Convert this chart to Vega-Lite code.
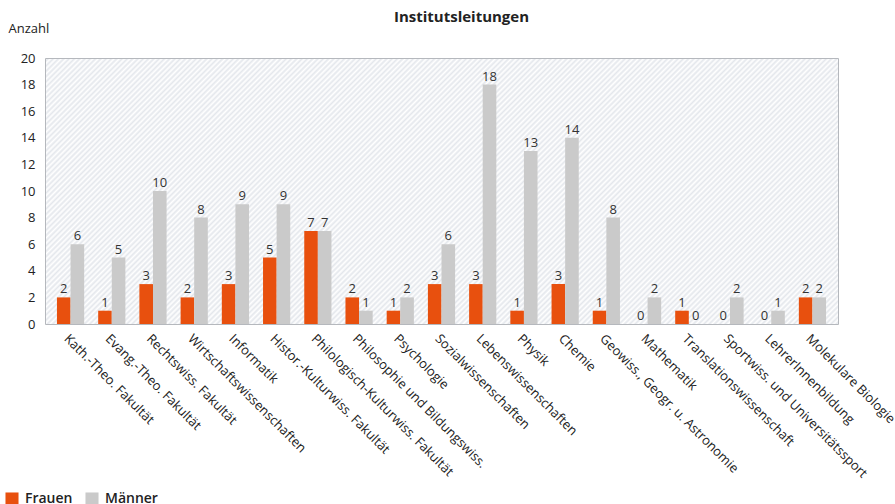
{
  "$schema": "https://vega.github.io/schema/vega-lite/v6.json",
  "width": 793,
  "height": 266,
  "autosize": {"type": "none"},
  "padding": {"left": 45, "top": 58, "right": 57, "bottom": 180},
  "background": "white",
  "title": {"text": "Institutsleitungen", "fontSize": 15, "fontWeight": "bold", "font": "Open Sans", "color": "#222222", "anchor": "middle", "dx": 20, "dy": 15, "offset": 0, "baseline": "alphabetic"},
  "data": {"values": [
    {"bereich": "Kath.-Theo. Fakultät", "geschlecht": "Frauen", "anzahl": 2},
    {"bereich": "Kath.-Theo. Fakultät", "geschlecht": "Männer", "anzahl": 6},
    {"bereich": "Evang.-Theo. Fakultät", "geschlecht": "Frauen", "anzahl": 1},
    {"bereich": "Evang.-Theo. Fakultät", "geschlecht": "Männer", "anzahl": 5},
    {"bereich": "Rechtswiss. Fakultät", "geschlecht": "Frauen", "anzahl": 3},
    {"bereich": "Rechtswiss. Fakultät", "geschlecht": "Männer", "anzahl": 10},
    {"bereich": "Wirtschaftswissenschaften", "geschlecht": "Frauen", "anzahl": 2},
    {"bereich": "Wirtschaftswissenschaften", "geschlecht": "Männer", "anzahl": 8},
    {"bereich": "Informatik", "geschlecht": "Frauen", "anzahl": 3},
    {"bereich": "Informatik", "geschlecht": "Männer", "anzahl": 9},
    {"bereich": "Histor.-Kulturwiss. Fakultät", "geschlecht": "Frauen", "anzahl": 5},
    {"bereich": "Histor.-Kulturwiss. Fakultät", "geschlecht": "Männer", "anzahl": 9},
    {"bereich": "Philologisch-Kulturwiss. Fakultät", "geschlecht": "Frauen", "anzahl": 7},
    {"bereich": "Philologisch-Kulturwiss. Fakultät", "geschlecht": "Männer", "anzahl": 7},
    {"bereich": "Philosophie und Bildungswiss.", "geschlecht": "Frauen", "anzahl": 2},
    {"bereich": "Philosophie und Bildungswiss.", "geschlecht": "Männer", "anzahl": 1},
    {"bereich": "Psychologie", "geschlecht": "Frauen", "anzahl": 1},
    {"bereich": "Psychologie", "geschlecht": "Männer", "anzahl": 2},
    {"bereich": "Sozialwissenschaften", "geschlecht": "Frauen", "anzahl": 3},
    {"bereich": "Sozialwissenschaften", "geschlecht": "Männer", "anzahl": 6},
    {"bereich": "Lebenswissenschaften", "geschlecht": "Frauen", "anzahl": 3},
    {"bereich": "Lebenswissenschaften", "geschlecht": "Männer", "anzahl": 18},
    {"bereich": "Physik", "geschlecht": "Frauen", "anzahl": 1},
    {"bereich": "Physik", "geschlecht": "Männer", "anzahl": 13},
    {"bereich": "Chemie", "geschlecht": "Frauen", "anzahl": 3},
    {"bereich": "Chemie", "geschlecht": "Männer", "anzahl": 14},
    {"bereich": "Geowiss., Geogr. u. Astronomie", "geschlecht": "Frauen", "anzahl": 1},
    {"bereich": "Geowiss., Geogr. u. Astronomie", "geschlecht": "Männer", "anzahl": 8},
    {"bereich": "Mathematik", "geschlecht": "Frauen", "anzahl": 0},
    {"bereich": "Mathematik", "geschlecht": "Männer", "anzahl": 2},
    {"bereich": "Translationswissenschaft", "geschlecht": "Frauen", "anzahl": 1},
    {"bereich": "Translationswissenschaft", "geschlecht": "Männer", "anzahl": 0},
    {"bereich": "Sportwiss. und Universitätssport", "geschlecht": "Frauen", "anzahl": 0},
    {"bereich": "Sportwiss. und Universitätssport", "geschlecht": "Männer", "anzahl": 2},
    {"bereich": "LehrerInnenbildung", "geschlecht": "Frauen", "anzahl": 0},
    {"bereich": "LehrerInnenbildung", "geschlecht": "Männer", "anzahl": 1},
    {"bereich": "Molekulare Biologie", "geschlecht": "Frauen", "anzahl": 2},
    {"bereich": "Molekulare Biologie", "geschlecht": "Männer", "anzahl": 2}
  ]},
  "encoding": {
    "x": {
      "field": "bereich", "type": "nominal", "sort": null,
      "scale": {"paddingInner": 0.34, "paddingOuter": 0.29},
      "axis": {"title": null, "labelAngle": 45, "labelAlign": "left", "labelBaseline": "top", "ticks": false, "domain": false, "labelPadding": 8, "labelFontSize": 13, "labelFont": "Open Sans", "labelColor": "#222222", "labelLimit": 0}
    },
    "xOffset": {"field": "geschlecht", "type": "nominal", "sort": ["Frauen", "Männer"]},
    "y": {
      "field": "anzahl", "type": "quantitative",
      "scale": {"domain": [0, 20]},
      "axis": {"values": [0, 2, 4, 6, 8, 10, 12, 14, 16, 18, 20], "ticks": false, "domain": false, "grid": false, "labelPadding": 10, "labelFontSize": 13, "labelFont": "Open Sans", "labelColor": "#222222", "title": "Anzahl", "titleAngle": 0, "titleAlign": "left", "titleBaseline": "middle", "titleX": -37, "titleY": -30, "titleFontWeight": "normal", "titleFontSize": 13, "titleFont": "Open Sans", "titleColor": "#222222"}
    }
  },
  "layer": [
    {
      "mark": {"type": "bar"},
      "encoding": {
        "color": {
          "field": "geschlecht", "type": "nominal",
          "scale": {"domain": ["Frauen", "Männer"], "range": ["#e8500e", "#cacaca"]},
          "legend": {"orient": "none", "legendX": -40, "legendY": 434, "direction": "horizontal", "title": null, "symbolType": "square", "symbolSize": 170, "symbolStrokeWidth": 0, "symbolOpacity": 1, "labelFontSize": 14, "labelFontWeight": 600, "labelFont": "Open Sans", "labelColor": "#222222", "columnPadding": 12, "labelOffset": 6}
        }
      }
    },
    {
      "mark": {"type": "text", "baseline": "alphabetic", "dy": -4, "fontSize": 13, "font": "Open Sans", "color": "#333333"},
      "encoding": {"text": {"field": "anzahl", "type": "quantitative"}}
    }
  ],
  "config": {
    "view": {"stroke": "#b5b8bd", "strokeWidth": 1, "fill": {"gradient": "linear", "x1": 0, "y1": 0, "x2": 1.2004, "y2": 0.4026, "stops": [
      {"offset": 0, "color": "#ffffff"}, {"offset": 0.0025, "color": "#e4e7ec"},
      {"offset": 0.005, "color": "#ffffff"}, {"offset": 0.0075, "color": "#e4e7ec"},
      {"offset": 0.01, "color": "#ffffff"}, {"offset": 0.0125, "color": "#e4e7ec"},
      {"offset": 0.015, "color": "#ffffff"}, {"offset": 0.0175, "color": "#e4e7ec"},
      {"offset": 0.02, "color": "#ffffff"}, {"offset": 0.0225, "color": "#e4e7ec"},
      {"offset": 0.025, "color": "#ffffff"}, {"offset": 0.0275, "color": "#e4e7ec"},
      {"offset": 0.03, "color": "#ffffff"}, {"offset": 0.0325, "color": "#e4e7ec"},
      {"offset": 0.035, "color": "#ffffff"}, {"offset": 0.0375, "color": "#e4e7ec"},
      {"offset": 0.04, "color": "#ffffff"}, {"offset": 0.0425, "color": "#e4e7ec"},
      {"offset": 0.045, "color": "#ffffff"}, {"offset": 0.0475, "color": "#e4e7ec"},
      {"offset": 0.05, "color": "#ffffff"}, {"offset": 0.0525, "color": "#e4e7ec"},
      {"offset": 0.055, "color": "#ffffff"}, {"offset": 0.0575, "color": "#e4e7ec"},
      {"offset": 0.06, "color": "#ffffff"}, {"offset": 0.0625, "color": "#e4e7ec"},
      {"offset": 0.065, "color": "#ffffff"}, {"offset": 0.0675, "color": "#e4e7ec"},
      {"offset": 0.07, "color": "#ffffff"}, {"offset": 0.0725, "color": "#e4e7ec"},
      {"offset": 0.075, "color": "#ffffff"}, {"offset": 0.0775, "color": "#e4e7ec"},
      {"offset": 0.08, "color": "#ffffff"}, {"offset": 0.0825, "color": "#e4e7ec"},
      {"offset": 0.085, "color": "#ffffff"}, {"offset": 0.0875, "color": "#e4e7ec"},
      {"offset": 0.09, "color": "#ffffff"}, {"offset": 0.0925, "color": "#e4e7ec"},
      {"offset": 0.095, "color": "#ffffff"}, {"offset": 0.0975, "color": "#e4e7ec"},
      {"offset": 0.1, "color": "#ffffff"}, {"offset": 0.1025, "color": "#e4e7ec"},
      {"offset": 0.105, "color": "#ffffff"}, {"offset": 0.1075, "color": "#e4e7ec"},
      {"offset": 0.11, "color": "#ffffff"}, {"offset": 0.1125, "color": "#e4e7ec"},
      {"offset": 0.115, "color": "#ffffff"}, {"offset": 0.1175, "color": "#e4e7ec"},
      {"offset": 0.12, "color": "#ffffff"}, {"offset": 0.1225, "color": "#e4e7ec"},
      {"offset": 0.125, "color": "#ffffff"}, {"offset": 0.1275, "color": "#e4e7ec"},
      {"offset": 0.13, "color": "#ffffff"}, {"offset": 0.1325, "color": "#e4e7ec"},
      {"offset": 0.135, "color": "#ffffff"}, {"offset": 0.1375, "color": "#e4e7ec"},
      {"offset": 0.14, "color": "#ffffff"}, {"offset": 0.1425, "color": "#e4e7ec"},
      {"offset": 0.145, "color": "#ffffff"}, {"offset": 0.1475, "color": "#e4e7ec"},
      {"offset": 0.15, "color": "#ffffff"}, {"offset": 0.1525, "color": "#e4e7ec"},
      {"offset": 0.155, "color": "#ffffff"}, {"offset": 0.1575, "color": "#e4e7ec"},
      {"offset": 0.16, "color": "#ffffff"}, {"offset": 0.1625, "color": "#e4e7ec"},
      {"offset": 0.165, "color": "#ffffff"}, {"offset": 0.1675, "color": "#e4e7ec"},
      {"offset": 0.17, "color": "#ffffff"}, {"offset": 0.1725, "color": "#e4e7ec"},
      {"offset": 0.175, "color": "#ffffff"}, {"offset": 0.1775, "color": "#e4e7ec"},
      {"offset": 0.18, "color": "#ffffff"}, {"offset": 0.1825, "color": "#e4e7ec"},
      {"offset": 0.185, "color": "#ffffff"}, {"offset": 0.1875, "color": "#e4e7ec"},
      {"offset": 0.19, "color": "#ffffff"}, {"offset": 0.1925, "color": "#e4e7ec"},
      {"offset": 0.195, "color": "#ffffff"}, {"offset": 0.1975, "color": "#e4e7ec"},
      {"offset": 0.2, "color": "#ffffff"}, {"offset": 0.2025, "color": "#e4e7ec"},
      {"offset": 0.205, "color": "#ffffff"}, {"offset": 0.2075, "color": "#e4e7ec"},
      {"offset": 0.21, "color": "#ffffff"}, {"offset": 0.2125, "color": "#e4e7ec"},
      {"offset": 0.215, "color": "#ffffff"}, {"offset": 0.2175, "color": "#e4e7ec"},
      {"offset": 0.22, "color": "#ffffff"}, {"offset": 0.2225, "color": "#e4e7ec"},
      {"offset": 0.225, "color": "#ffffff"}, {"offset": 0.2275, "color": "#e4e7ec"},
      {"offset": 0.23, "color": "#ffffff"}, {"offset": 0.2325, "color": "#e4e7ec"},
      {"offset": 0.235, "color": "#ffffff"}, {"offset": 0.2375, "color": "#e4e7ec"},
      {"offset": 0.24, "color": "#ffffff"}, {"offset": 0.2425, "color": "#e4e7ec"},
      {"offset": 0.245, "color": "#ffffff"}, {"offset": 0.2475, "color": "#e4e7ec"},
      {"offset": 0.25, "color": "#ffffff"}, {"offset": 0.2525, "color": "#e4e7ec"},
      {"offset": 0.255, "color": "#ffffff"}, {"offset": 0.2575, "color": "#e4e7ec"},
      {"offset": 0.26, "color": "#ffffff"}, {"offset": 0.2625, "color": "#e4e7ec"},
      {"offset": 0.265, "color": "#ffffff"}, {"offset": 0.2675, "color": "#e4e7ec"},
      {"offset": 0.27, "color": "#ffffff"}, {"offset": 0.2725, "color": "#e4e7ec"},
      {"offset": 0.275, "color": "#ffffff"}, {"offset": 0.2775, "color": "#e4e7ec"},
      {"offset": 0.28, "color": "#ffffff"}, {"offset": 0.2825, "color": "#e4e7ec"},
      {"offset": 0.285, "color": "#ffffff"}, {"offset": 0.2875, "color": "#e4e7ec"},
      {"offset": 0.29, "color": "#ffffff"}, {"offset": 0.2925, "color": "#e4e7ec"},
      {"offset": 0.295, "color": "#ffffff"}, {"offset": 0.2975, "color": "#e4e7ec"},
      {"offset": 0.3, "color": "#ffffff"}, {"offset": 0.3025, "color": "#e4e7ec"},
      {"offset": 0.305, "color": "#ffffff"}, {"offset": 0.3075, "color": "#e4e7ec"},
      {"offset": 0.31, "color": "#ffffff"}, {"offset": 0.3125, "color": "#e4e7ec"},
      {"offset": 0.315, "color": "#ffffff"}, {"offset": 0.3175, "color": "#e4e7ec"},
      {"offset": 0.32, "color": "#ffffff"}, {"offset": 0.3225, "color": "#e4e7ec"},
      {"offset": 0.325, "color": "#ffffff"}, {"offset": 0.3275, "color": "#e4e7ec"},
      {"offset": 0.33, "color": "#ffffff"}, {"offset": 0.3325, "color": "#e4e7ec"},
      {"offset": 0.335, "color": "#ffffff"}, {"offset": 0.3375, "color": "#e4e7ec"},
      {"offset": 0.34, "color": "#ffffff"}, {"offset": 0.3425, "color": "#e4e7ec"},
      {"offset": 0.345, "color": "#ffffff"}, {"offset": 0.3475, "color": "#e4e7ec"},
      {"offset": 0.35, "color": "#ffffff"}, {"offset": 0.3525, "color": "#e4e7ec"},
      {"offset": 0.355, "color": "#ffffff"}, {"offset": 0.3575, "color": "#e4e7ec"},
      {"offset": 0.36, "color": "#ffffff"}, {"offset": 0.3625, "color": "#e4e7ec"},
      {"offset": 0.365, "color": "#ffffff"}, {"offset": 0.3675, "color": "#e4e7ec"},
      {"offset": 0.37, "color": "#ffffff"}, {"offset": 0.3725, "color": "#e4e7ec"},
      {"offset": 0.375, "color": "#ffffff"}, {"offset": 0.3775, "color": "#e4e7ec"},
      {"offset": 0.38, "color": "#ffffff"}, {"offset": 0.3825, "color": "#e4e7ec"},
      {"offset": 0.385, "color": "#ffffff"}, {"offset": 0.3875, "color": "#e4e7ec"},
      {"offset": 0.39, "color": "#ffffff"}, {"offset": 0.3925, "color": "#e4e7ec"},
      {"offset": 0.395, "color": "#ffffff"}, {"offset": 0.3975, "color": "#e4e7ec"},
      {"offset": 0.4, "color": "#ffffff"}, {"offset": 0.4025, "color": "#e4e7ec"},
      {"offset": 0.405, "color": "#ffffff"}, {"offset": 0.4075, "color": "#e4e7ec"},
      {"offset": 0.41, "color": "#ffffff"}, {"offset": 0.4125, "color": "#e4e7ec"},
      {"offset": 0.415, "color": "#ffffff"}, {"offset": 0.4175, "color": "#e4e7ec"},
      {"offset": 0.42, "color": "#ffffff"}, {"offset": 0.4225, "color": "#e4e7ec"},
      {"offset": 0.425, "color": "#ffffff"}, {"offset": 0.4275, "color": "#e4e7ec"},
      {"offset": 0.43, "color": "#ffffff"}, {"offset": 0.4325, "color": "#e4e7ec"},
      {"offset": 0.435, "color": "#ffffff"}, {"offset": 0.4375, "color": "#e4e7ec"},
      {"offset": 0.44, "color": "#ffffff"}, {"offset": 0.4425, "color": "#e4e7ec"},
      {"offset": 0.445, "color": "#ffffff"}, {"offset": 0.4475, "color": "#e4e7ec"},
      {"offset": 0.45, "color": "#ffffff"}, {"offset": 0.4525, "color": "#e4e7ec"},
      {"offset": 0.455, "color": "#ffffff"}, {"offset": 0.4575, "color": "#e4e7ec"},
      {"offset": 0.46, "color": "#ffffff"}, {"offset": 0.4625, "color": "#e4e7ec"},
      {"offset": 0.465, "color": "#ffffff"}, {"offset": 0.4675, "color": "#e4e7ec"},
      {"offset": 0.47, "color": "#ffffff"}, {"offset": 0.4725, "color": "#e4e7ec"},
      {"offset": 0.475, "color": "#ffffff"}, {"offset": 0.4775, "color": "#e4e7ec"},
      {"offset": 0.48, "color": "#ffffff"}, {"offset": 0.4825, "color": "#e4e7ec"},
      {"offset": 0.485, "color": "#ffffff"}, {"offset": 0.4875, "color": "#e4e7ec"},
      {"offset": 0.49, "color": "#ffffff"}, {"offset": 0.4925, "color": "#e4e7ec"},
      {"offset": 0.495, "color": "#ffffff"}, {"offset": 0.4975, "color": "#e4e7ec"},
      {"offset": 0.5, "color": "#ffffff"}, {"offset": 0.5025, "color": "#e4e7ec"},
      {"offset": 0.505, "color": "#ffffff"}, {"offset": 0.5075, "color": "#e4e7ec"},
      {"offset": 0.51, "color": "#ffffff"}, {"offset": 0.5125, "color": "#e4e7ec"},
      {"offset": 0.515, "color": "#ffffff"}, {"offset": 0.5175, "color": "#e4e7ec"},
      {"offset": 0.52, "color": "#ffffff"}, {"offset": 0.5225, "color": "#e4e7ec"},
      {"offset": 0.525, "color": "#ffffff"}, {"offset": 0.5275, "color": "#e4e7ec"},
      {"offset": 0.53, "color": "#ffffff"}, {"offset": 0.5325, "color": "#e4e7ec"},
      {"offset": 0.535, "color": "#ffffff"}, {"offset": 0.5375, "color": "#e4e7ec"},
      {"offset": 0.54, "color": "#ffffff"}, {"offset": 0.5425, "color": "#e4e7ec"},
      {"offset": 0.545, "color": "#ffffff"}, {"offset": 0.5475, "color": "#e4e7ec"},
      {"offset": 0.55, "color": "#ffffff"}, {"offset": 0.5525, "color": "#e4e7ec"},
      {"offset": 0.555, "color": "#ffffff"}, {"offset": 0.5575, "color": "#e4e7ec"},
      {"offset": 0.56, "color": "#ffffff"}, {"offset": 0.5625, "color": "#e4e7ec"},
      {"offset": 0.565, "color": "#ffffff"}, {"offset": 0.5675, "color": "#e4e7ec"},
      {"offset": 0.57, "color": "#ffffff"}, {"offset": 0.5725, "color": "#e4e7ec"},
      {"offset": 0.575, "color": "#ffffff"}, {"offset": 0.5775, "color": "#e4e7ec"},
      {"offset": 0.58, "color": "#ffffff"}, {"offset": 0.5825, "color": "#e4e7ec"},
      {"offset": 0.585, "color": "#ffffff"}, {"offset": 0.5875, "color": "#e4e7ec"},
      {"offset": 0.59, "color": "#ffffff"}, {"offset": 0.5925, "color": "#e4e7ec"},
      {"offset": 0.595, "color": "#ffffff"}, {"offset": 0.5975, "color": "#e4e7ec"},
      {"offset": 0.6, "color": "#ffffff"}, {"offset": 0.6025, "color": "#e4e7ec"},
      {"offset": 0.605, "color": "#ffffff"}, {"offset": 0.6075, "color": "#e4e7ec"},
      {"offset": 0.61, "color": "#ffffff"}, {"offset": 0.6125, "color": "#e4e7ec"},
      {"offset": 0.615, "color": "#ffffff"}, {"offset": 0.6175, "color": "#e4e7ec"},
      {"offset": 0.62, "color": "#ffffff"}, {"offset": 0.6225, "color": "#e4e7ec"},
      {"offset": 0.625, "color": "#ffffff"}, {"offset": 0.6275, "color": "#e4e7ec"},
      {"offset": 0.63, "color": "#ffffff"}, {"offset": 0.6325, "color": "#e4e7ec"},
      {"offset": 0.635, "color": "#ffffff"}, {"offset": 0.6375, "color": "#e4e7ec"},
      {"offset": 0.64, "color": "#ffffff"}, {"offset": 0.6425, "color": "#e4e7ec"},
      {"offset": 0.645, "color": "#ffffff"}, {"offset": 0.6475, "color": "#e4e7ec"},
      {"offset": 0.65, "color": "#ffffff"}, {"offset": 0.6525, "color": "#e4e7ec"},
      {"offset": 0.655, "color": "#ffffff"}, {"offset": 0.6575, "color": "#e4e7ec"},
      {"offset": 0.66, "color": "#ffffff"}, {"offset": 0.6625, "color": "#e4e7ec"},
      {"offset": 0.665, "color": "#ffffff"}, {"offset": 0.6675, "color": "#e4e7ec"},
      {"offset": 0.67, "color": "#ffffff"}, {"offset": 0.6725, "color": "#e4e7ec"},
      {"offset": 0.675, "color": "#ffffff"}, {"offset": 0.6775, "color": "#e4e7ec"},
      {"offset": 0.68, "color": "#ffffff"}, {"offset": 0.6825, "color": "#e4e7ec"},
      {"offset": 0.685, "color": "#ffffff"}, {"offset": 0.6875, "color": "#e4e7ec"},
      {"offset": 0.69, "color": "#ffffff"}, {"offset": 0.6925, "color": "#e4e7ec"},
      {"offset": 0.695, "color": "#ffffff"}, {"offset": 0.6975, "color": "#e4e7ec"},
      {"offset": 0.7, "color": "#ffffff"}, {"offset": 0.7025, "color": "#e4e7ec"},
      {"offset": 0.705, "color": "#ffffff"}, {"offset": 0.7075, "color": "#e4e7ec"},
      {"offset": 0.71, "color": "#ffffff"}, {"offset": 0.7125, "color": "#e4e7ec"},
      {"offset": 0.715, "color": "#ffffff"}, {"offset": 0.7175, "color": "#e4e7ec"},
      {"offset": 0.72, "color": "#ffffff"}, {"offset": 0.7225, "color": "#e4e7ec"},
      {"offset": 0.725, "color": "#ffffff"}, {"offset": 0.7275, "color": "#e4e7ec"},
      {"offset": 0.73, "color": "#ffffff"}, {"offset": 0.7325, "color": "#e4e7ec"},
      {"offset": 0.735, "color": "#ffffff"}, {"offset": 0.7375, "color": "#e4e7ec"},
      {"offset": 0.74, "color": "#ffffff"}, {"offset": 0.7425, "color": "#e4e7ec"},
      {"offset": 0.745, "color": "#ffffff"}, {"offset": 0.7475, "color": "#e4e7ec"},
      {"offset": 0.75, "color": "#ffffff"}, {"offset": 0.7525, "color": "#e4e7ec"},
      {"offset": 0.755, "color": "#ffffff"}, {"offset": 0.7575, "color": "#e4e7ec"},
      {"offset": 0.76, "color": "#ffffff"}, {"offset": 0.7625, "color": "#e4e7ec"},
      {"offset": 0.765, "color": "#ffffff"}, {"offset": 0.7675, "color": "#e4e7ec"},
      {"offset": 0.77, "color": "#ffffff"}, {"offset": 0.7725, "color": "#e4e7ec"},
      {"offset": 0.775, "color": "#ffffff"}, {"offset": 0.7775, "color": "#e4e7ec"},
      {"offset": 0.78, "color": "#ffffff"}, {"offset": 0.7825, "color": "#e4e7ec"},
      {"offset": 0.785, "color": "#ffffff"}, {"offset": 0.7875, "color": "#e4e7ec"},
      {"offset": 0.79, "color": "#ffffff"}, {"offset": 0.7925, "color": "#e4e7ec"},
      {"offset": 0.795, "color": "#ffffff"}, {"offset": 0.7975, "color": "#e4e7ec"},
      {"offset": 0.8, "color": "#ffffff"}, {"offset": 0.8025, "color": "#e4e7ec"},
      {"offset": 0.805, "color": "#ffffff"}, {"offset": 0.8075, "color": "#e4e7ec"},
      {"offset": 0.81, "color": "#ffffff"}, {"offset": 0.8125, "color": "#e4e7ec"},
      {"offset": 0.815, "color": "#ffffff"}, {"offset": 0.8175, "color": "#e4e7ec"},
      {"offset": 0.82, "color": "#ffffff"}, {"offset": 0.8225, "color": "#e4e7ec"},
      {"offset": 0.825, "color": "#ffffff"}, {"offset": 0.8275, "color": "#e4e7ec"},
      {"offset": 0.83, "color": "#ffffff"}, {"offset": 0.8325, "color": "#e4e7ec"},
      {"offset": 0.835, "color": "#ffffff"}, {"offset": 0.8375, "color": "#e4e7ec"},
      {"offset": 0.84, "color": "#ffffff"}, {"offset": 0.8425, "color": "#e4e7ec"},
      {"offset": 0.845, "color": "#ffffff"}, {"offset": 0.8475, "color": "#e4e7ec"},
      {"offset": 0.85, "color": "#ffffff"}, {"offset": 0.8525, "color": "#e4e7ec"},
      {"offset": 0.855, "color": "#ffffff"}, {"offset": 0.8575, "color": "#e4e7ec"},
      {"offset": 0.86, "color": "#ffffff"}, {"offset": 0.8625, "color": "#e4e7ec"},
      {"offset": 0.865, "color": "#ffffff"}, {"offset": 0.8675, "color": "#e4e7ec"},
      {"offset": 0.87, "color": "#ffffff"}, {"offset": 0.8725, "color": "#e4e7ec"},
      {"offset": 0.875, "color": "#ffffff"}, {"offset": 0.8775, "color": "#e4e7ec"},
      {"offset": 0.88, "color": "#ffffff"}, {"offset": 0.8825, "color": "#e4e7ec"},
      {"offset": 0.885, "color": "#ffffff"}, {"offset": 0.8875, "color": "#e4e7ec"},
      {"offset": 0.89, "color": "#ffffff"}, {"offset": 0.8925, "color": "#e4e7ec"},
      {"offset": 0.895, "color": "#ffffff"}, {"offset": 0.8975, "color": "#e4e7ec"},
      {"offset": 0.9, "color": "#ffffff"}, {"offset": 0.9025, "color": "#e4e7ec"},
      {"offset": 0.905, "color": "#ffffff"}, {"offset": 0.9075, "color": "#e4e7ec"},
      {"offset": 0.91, "color": "#ffffff"}, {"offset": 0.9125, "color": "#e4e7ec"},
      {"offset": 0.915, "color": "#ffffff"}, {"offset": 0.9175, "color": "#e4e7ec"},
      {"offset": 0.92, "color": "#ffffff"}, {"offset": 0.9225, "color": "#e4e7ec"},
      {"offset": 0.925, "color": "#ffffff"}, {"offset": 0.9275, "color": "#e4e7ec"},
      {"offset": 0.93, "color": "#ffffff"}, {"offset": 0.9325, "color": "#e4e7ec"},
      {"offset": 0.935, "color": "#ffffff"}, {"offset": 0.9375, "color": "#e4e7ec"},
      {"offset": 0.94, "color": "#ffffff"}, {"offset": 0.9425, "color": "#e4e7ec"},
      {"offset": 0.945, "color": "#ffffff"}, {"offset": 0.9475, "color": "#e4e7ec"},
      {"offset": 0.95, "color": "#ffffff"}, {"offset": 0.9525, "color": "#e4e7ec"},
      {"offset": 0.955, "color": "#ffffff"}, {"offset": 0.9575, "color": "#e4e7ec"},
      {"offset": 0.96, "color": "#ffffff"}, {"offset": 0.9625, "color": "#e4e7ec"},
      {"offset": 0.965, "color": "#ffffff"}, {"offset": 0.9675, "color": "#e4e7ec"},
      {"offset": 0.97, "color": "#ffffff"}, {"offset": 0.9725, "color": "#e4e7ec"},
      {"offset": 0.975, "color": "#ffffff"}, {"offset": 0.9775, "color": "#e4e7ec"},
      {"offset": 0.98, "color": "#ffffff"}, {"offset": 0.9825, "color": "#e4e7ec"},
      {"offset": 0.985, "color": "#ffffff"}, {"offset": 0.9875, "color": "#e4e7ec"},
      {"offset": 0.99, "color": "#ffffff"}, {"offset": 0.9925, "color": "#e4e7ec"},
      {"offset": 0.995, "color": "#ffffff"}, {"offset": 0.9975, "color": "#e4e7ec"},
      {"offset": 1, "color": "#ffffff"}
    ]}}
  }
}
